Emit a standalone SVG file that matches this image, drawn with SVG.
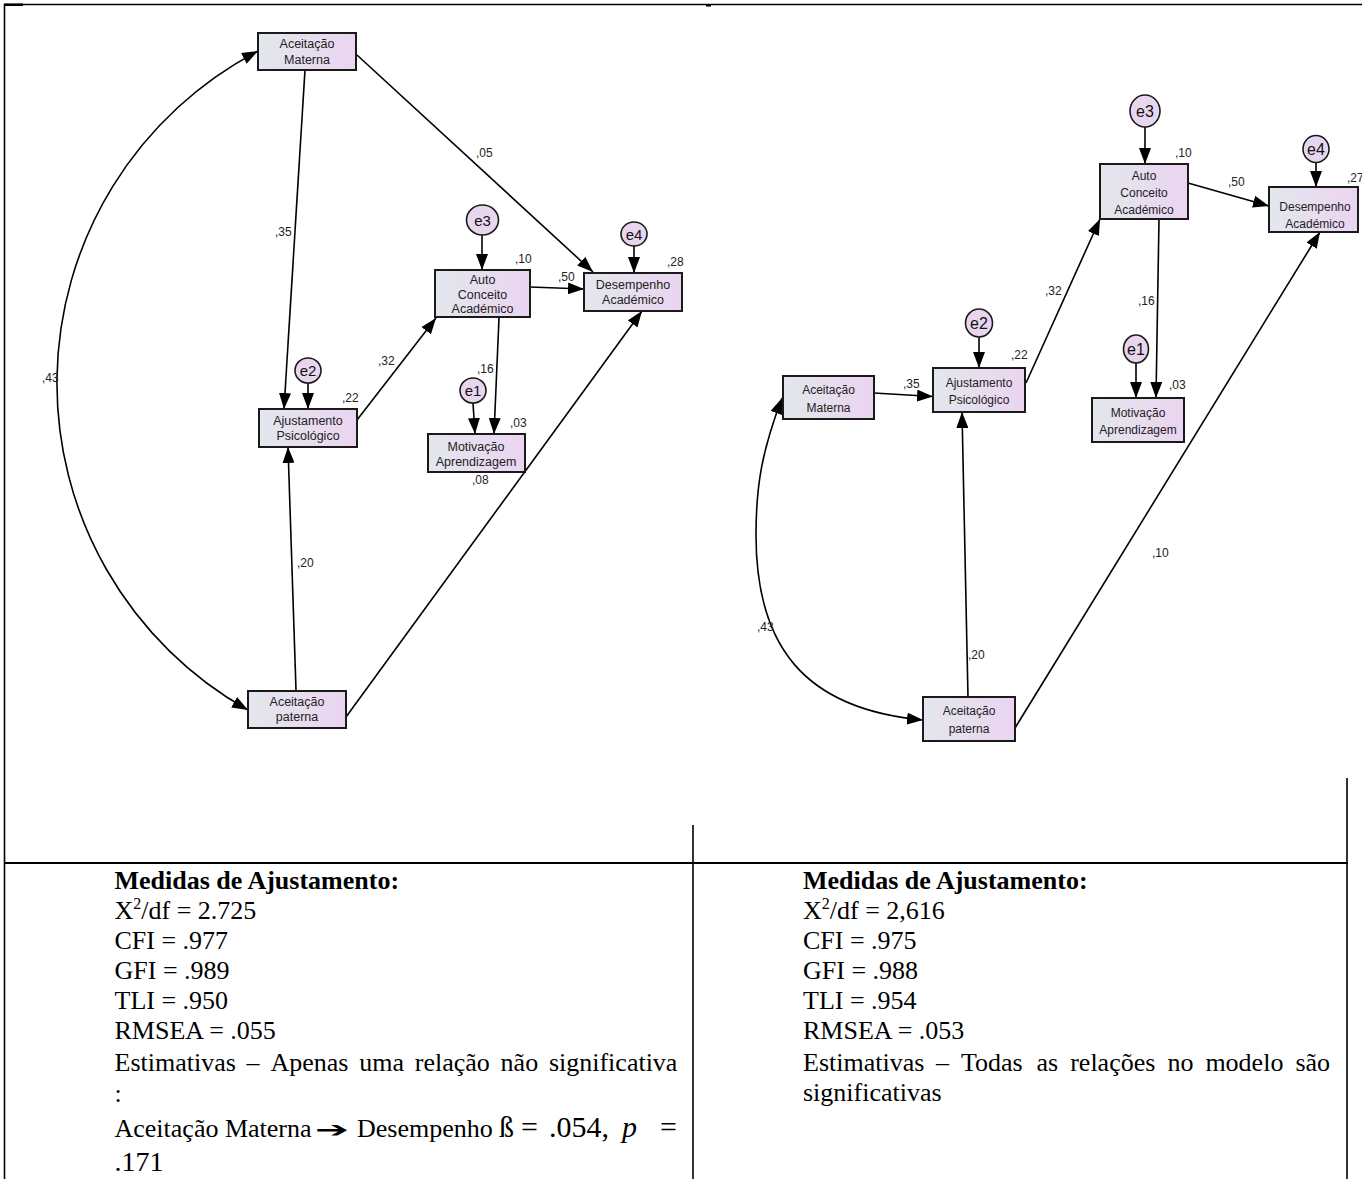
<svg xmlns="http://www.w3.org/2000/svg" width="1362" height="1179" viewBox="0 0 1362 1179">
<style>
.box{fill:url(#gr);stroke:#1a1a1a;stroke-width:2}
.err{fill:#e8d6ef;stroke:#1a1a1a;stroke-width:1.6}
.lbl{font-family:"Liberation Sans",Arial,sans-serif;font-size:12.5px;text-anchor:middle;fill:#222}
.lblr{font-family:"Liberation Sans",Arial,sans-serif;font-size:12px;text-anchor:middle;fill:#222}
.et{font-family:"Liberation Sans",Arial,sans-serif;font-size:15px;text-anchor:middle;fill:#111}
.num{font-family:"Liberation Sans",Arial,sans-serif;font-size:12px;fill:#222}
.c{fill:none;stroke:#000;stroke-width:1.6}
.a{marker-end:url(#ah)}
.b{marker-start:url(#ah);marker-end:url(#ah)}
.t{font-family:"Liberation Serif","Times New Roman",serif;font-size:26px;fill:#000}
.tb{font-weight:bold}
.big{font-size:30px}
.rule{stroke:#000;stroke-width:1.6;fill:none}
</style>
<defs>
<linearGradient id="gr" x1="0" y1="0" x2="1" y2="0">
<stop offset="0" stop-color="#e3e7ed"/>
<stop offset="1" stop-color="#ebd4f0"/>
</linearGradient>
<marker id="ah" markerUnits="userSpaceOnUse" markerWidth="16" markerHeight="12" refX="16" refY="6" orient="auto-start-reverse" viewBox="0 0 16 12">
<path d="M0,0 L16,6 L0,12 z" fill="#000"/>
</marker>
</defs>
<rect width="1362" height="1179" fill="#fff"/>
<g id="table">
<line class="rule" x1="4" y1="4.5" x2="1362" y2="4.5"/>
<rect x="4" y="3.5" width="19" height="2.5" fill="#000"/>
<rect x="706" y="4" width="5" height="2.5" fill="#000"/>
<line class="rule" x1="4.5" y1="4" x2="4.5" y2="1179"/>
<line class="rule" x1="4" y1="863" x2="1348" y2="863" style="stroke-width:2"/>
<line class="rule" x1="693" y1="825" x2="693" y2="1179"/>
<line class="rule" x1="1347" y1="778" x2="1347" y2="1179"/>
</g>
<g id="connectors">
<path class="c a" d="M305,70 L284,409"/>
<path class="c a" d="M357,55 L593,272"/>
<path class="c a" d="M357,420 L436,318"/>
<path class="c a" d="M530,287 L584,289"/>
<path class="c a" d="M499,318 L494,434"/>
<path class="c a" d="M296,690 L288,447"/>
<path class="c a" d="M346,717 L642,311"/>
<path class="c b" d="M258,51 A375,375 0 0 0 248,710"/>
<path class="c a" d="M482,235 L482,270"/>
<path class="c a" d="M634,246 L634,273"/>
<path class="c a" d="M308,383 L308,409"/>
<path class="c a" d="M473,403 L475,434"/>
<path class="c a" d="M874,393 L933,396.5"/>
<path class="c a" d="M1026,383 L1100,219"/>
<path class="c a" d="M1188,183 L1269,206"/>
<path class="c a" d="M1159,219 L1156,398"/>
<path class="c a" d="M968,697 L962,412"/>
<path class="c a" d="M1015,728 L1320,232"/>
<path class="c b" d="M782,398 C762,451 756,485 756,535 C756,645 803,709 923,720"/>
<path class="c a" d="M1145,127 L1145,164"/>
<path class="c a" d="M1316,162.5 L1316,187"/>
<path class="c a" d="M979,337 L979,368"/>
<path class="c a" d="M1136,363 L1136,398"/>
</g>
<g id="labels">
<text class="num" x="476" y="157">,05</text>
<text class="num" x="275" y="236">,35</text>
<text class="num" x="42" y="382">,43</text>
<text class="num" x="515" y="263">,10</text>
<text class="num" x="667" y="266">,28</text>
<text class="num" x="558" y="281">,50</text>
<text class="num" x="342" y="402">,22</text>
<text class="num" x="378" y="365">,32</text>
<text class="num" x="477" y="373">,16</text>
<text class="num" x="510" y="427">,03</text>
<text class="num" x="472" y="484">,08</text>
<text class="num" x="297" y="567">,20</text>
<text class="num" x="1175" y="157">,10</text>
<text class="num" x="1347" y="182">,27</text>
<text class="num" x="1228" y="186">,50</text>
<text class="num" x="1011" y="359">,22</text>
<text class="num" x="903" y="388">,35</text>
<text class="num" x="1169" y="389">,03</text>
<text class="num" x="1138" y="305">,16</text>
<text class="num" x="1045" y="295">,32</text>
<text class="num" x="757" y="631">,43</text>
<text class="num" x="968" y="659">,20</text>
<text class="num" x="1152" y="557">,10</text>
</g>
<g id="L-materna"><rect class="box" x="258" y="33" width="98" height="37"/><text class="lbl" x="307" y="48">Aceitação</text><text class="lbl" x="307" y="64">Materna</text></g>
<g id="L-ajustamento"><rect class="box" x="259" y="409" width="98" height="38"/><text class="lbl" x="308" y="425">Ajustamento</text><text class="lbl" x="308" y="440">Psicológico</text></g>
<g id="L-paterna"><rect class="box" x="248" y="691" width="98" height="37"/><text class="lbl" x="297" y="706">Aceitação</text><text class="lbl" x="297" y="721">paterna</text></g>
<g id="L-auto"><rect class="box" x="435" y="270" width="95" height="47"/><text class="lbl" x="482.5" y="284">Auto</text><text class="lbl" x="482.5" y="299">Conceito</text><text class="lbl" x="482.5" y="313">Académico</text></g>
<g id="L-desempenho"><rect class="box" x="584" y="273" width="98" height="38"/><text class="lbl" x="633" y="289">Desempenho</text><text class="lbl" x="633" y="304">Académico</text></g>
<g id="L-motivacao"><rect class="box" x="428" y="434" width="97" height="38"/><text class="lbl" x="476" y="451">Motivação</text><text class="lbl" x="476" y="466">Aprendizagem</text></g>
<g id="L-e3"><ellipse class="err" cx="482.5" cy="220" rx="16" ry="15"/><text class="et" x="482.5" y="225.5">e3</text></g>
<g id="L-e4"><ellipse class="err" cx="634" cy="234" rx="13" ry="12"/><text class="et" x="634" y="239.5">e4</text></g>
<g id="L-e2"><ellipse class="err" cx="308" cy="370.5" rx="13" ry="12.5"/><text class="et" x="308" y="376">e2</text></g>
<g id="L-e1"><ellipse class="err" cx="473" cy="390.5" rx="13" ry="12.5"/><text class="et" x="473" y="396">e1</text></g>
<g id="R-materna"><rect class="box" x="783" y="376" width="91" height="43"/><text class="lblr" x="828.5" y="394">Aceitação</text><text class="lblr" x="828.5" y="411.5">Materna</text></g>
<g id="R-ajustamento"><rect class="box" x="933" y="368" width="92" height="44"/><text class="lblr" x="979" y="386.5">Ajustamento</text><text class="lblr" x="979" y="404">Psicológico</text></g>
<g id="R-paterna"><rect class="box" x="923" y="697" width="92" height="44"/><text class="lblr" x="969" y="715">Aceitação</text><text class="lblr" x="969" y="732.5">paterna</text></g>
<g id="R-auto"><rect class="box" x="1100" y="164" width="88" height="55"/><text class="lblr" x="1144" y="179.5">Auto</text><text class="lblr" x="1144" y="197">Conceito</text><text class="lblr" x="1144" y="214">Académico</text></g>
<g id="R-desempenho"><rect class="box" x="1269" y="187" width="89" height="45"/><text class="lblr" x="1315" y="210.5">Desempenho</text><text class="lblr" x="1315" y="228">Académico</text></g>
<g id="R-motivacao"><rect class="box" x="1092" y="398" width="92" height="44"/><text class="lblr" x="1138" y="416.5">Motivação</text><text class="lblr" x="1138" y="433.5">Aprendizagem</text></g>
<g id="R-e3"><ellipse class="err" cx="1145" cy="111" rx="15" ry="16"/><text class="et" x="1145" y="117" style="font-size:16px">e3</text></g>
<g id="R-e4"><ellipse class="err" cx="1316" cy="149" rx="13" ry="13.5"/><text class="et" x="1316" y="155" style="font-size:16px">e4</text></g>
<g id="R-e2"><ellipse class="err" cx="979" cy="323" rx="13.5" ry="14"/><text class="et" x="979" y="329" style="font-size:16px">e2</text></g>
<g id="R-e1"><ellipse class="err" cx="1136" cy="349" rx="12.5" ry="14"/><text class="et" x="1136" y="355" style="font-size:16px">e1</text></g>
<g id="text-left">
<text class="t tb" x="114.5" y="889">Medidas de Ajustamento:</text>
<text class="t" x="114.5" y="919">X<tspan dy="-10" font-size="16">2</tspan><tspan dy="10">/df = 2.725</tspan></text>
<text class="t" x="114.5" y="949">CFI = .977</text>
<text class="t" x="114.5" y="979">GFI = .989</text>
<text class="t" x="114.5" y="1009">TLI = .950</text>
<text class="t" x="114.5" y="1039">RMSEA = .055</text>
<text class="t" x="114.5" y="1071">Estimativas<tspan x="246.6">–</tspan><tspan x="270.4">Apenas</tspan><tspan x="359.2">uma</tspan><tspan x="414.8">relação</tspan><tspan x="500.6">não</tspan><tspan x="548.9">significativa</tspan></text>
<text class="t" x="114.5" y="1102">:</text>
<text class="t" x="114.5" y="1137">Aceitação Materna<tspan x="357">Desempenho</tspan><tspan class="big" x="499">ß</tspan><tspan class="big" x="521">=</tspan><tspan class="big" x="549">.054,</tspan><tspan class="big" x="622" font-style="italic">p</tspan><tspan class="big" x="660">=</tspan></text>
<text x="315" y="1137" font-family="DejaVu Sans" font-weight="bold" font-size="22" textLength="34" lengthAdjust="spacingAndGlyphs">➔</text>
<text class="t" x="114.5" y="1171" style="font-size:28px">.171</text>
</g>
<g id="text-right">
<text class="t tb" x="803" y="889">Medidas de Ajustamento:</text>
<text class="t" x="803" y="919">X<tspan dy="-10" font-size="16">2</tspan><tspan dy="10">/df = 2,616</tspan></text>
<text class="t" x="803" y="949">CFI = .975</text>
<text class="t" x="803" y="979">GFI = .988</text>
<text class="t" x="803" y="1009">TLI = .954</text>
<text class="t" x="803" y="1039">RMSEA = .053</text>
<text class="t" x="803" y="1071">Estimativas<tspan x="936">–</tspan><tspan x="961">Todas</tspan><tspan x="1036.5">as</tspan><tspan x="1070.2">relações</tspan><tspan x="1167.4">no</tspan><tspan x="1205.4">modelo</tspan><tspan x="1295.4">são</tspan></text>
<text class="t" x="803" y="1101">significativas</text>
</g>
</svg>
